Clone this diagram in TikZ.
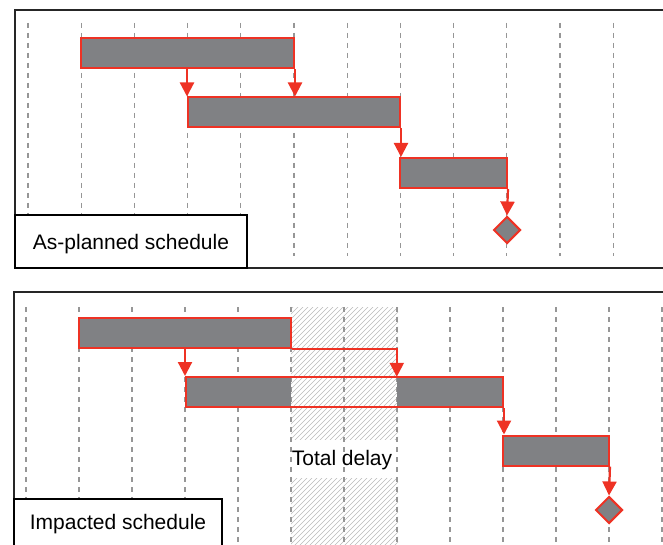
\documentclass[tikz,border=0pt]{standalone}
\usepackage{fontspec}
\setmainfont{Liberation Sans}
\usetikzlibrary{arrows.meta,shapes.geometric}
\definecolor{barred}{RGB}{238,50,36}
\definecolor{bargray}{RGB}{128,129,132}
\definecolor{gridgray}{RGB}{150,150,150}
\definecolor{hatchgray}{RGB}{185,185,185}
\begin{document}
\begin{tikzpicture}[x=1pt,y=-1pt,
 bar/.style={draw=barred, line width=2pt, fill=bargray, rectangle, inner sep=0pt, minimum height=30pt},
 barfill/.style={fill=bargray, rectangle, inner sep=0pt, minimum height=30pt},
 barframe/.style={draw=barred, line width=2pt, rectangle, inner sep=0pt, minimum height=30pt},
 milestone/.style={diamond, draw=barred, line width=2pt, fill=bargray, inner sep=0pt, minimum width=27pt, minimum height=27pt},
 link/.style={draw=barred, line width=2.2pt, -{Triangle[width=14pt,length=14pt]}},
 gridline/.style={draw=gridgray, line width=1.2pt, dash pattern=on 5pt off 5pt},
 hatch/.style={draw=hatchgray, line width=0.6pt},
 panel/.style={draw=black!85, line width=1.5pt},
 schedlabel/.style={draw=black, line width=1.2pt, fill=white, inner sep=0pt, text height=15pt, text depth=0pt, font=\fontsize{21}{25}\selectfont},
 plaintext/.style={font=\fontsize{21}{25}\selectfont, inner sep=0pt, text height=15pt, text depth=0pt}
]
\useasboundingbox (0,0) rectangle (663,545);

% panels
\draw[panel] (15,10) rectangle (700,268);
\draw[panel] (14,292) rectangle (700,570);

% hatched delay zone
\begin{scope}
  \clip (291,307) rectangle (398,439);
  \foreach \k in {140,145,...,420} \draw[hatch] (\k,450) -- ++(160,-160);
\end{scope}
\begin{scope}
  \clip (291,478) rectangle (398,545);
  \foreach \k in {200,205,...,420} \draw[hatch] (\k,560) -- ++(100,-100);
\end{scope}

% grid lines
\foreach \i in {0,...,11} \draw[gridline] ({28+53.2*\i},23) -- ({28+53.2*\i},256);
\foreach \i in {0,...,12} \draw[gridline] ({26+53*\i},307) -- ({26+53*\i},545);

% as-planned
\node[bar, minimum width=213pt] (A1) at (187.5,53.5) {};
\node[bar, minimum width=212pt] (A2) at (294,112.5) {};
\node[bar, minimum width=107pt] (A3) at (453.5,173) {};
\node[milestone] (A4) at (507,230) {};
\draw[link] (A2.north west |- A1.south) -- (A2.north west);
\draw[link] (A1.south east) -- (A1.south east |- A2.north);
\draw[link] (A2.south east) -- (A2.south east |- A3.north);
\draw[link] (A3.south east) -- (A4.north);

% impacted
\node[bar, minimum width=212pt] (B1) at (185,333) {};
\node[barfill, minimum width=105pt] (B2a) at (238.5,392) {};
\node[barfill, minimum width=106pt] (B2b) at (450,392) {};
\node[barframe, minimum width=317pt] (B2) at (344.5,392) {};
\node[bar, minimum width=106pt] (B3) at (556,450.5) {};
\node[milestone] (B4) at (609,510) {};
\draw[link] (B2.north west |- B1.south) -- (B2.north west);
\draw[link] (B1.south east) -| (B2b.north west);
\draw[link] (B2.south east) -- (B2.south east |- B3.north);
\draw[link] (B3.south east) -- (B4.north);

\node[plaintext] (delay) at (342,458) {Total delay};

% labels
\node[schedlabel, minimum width=232pt, minimum height=53pt] (lab1) at (131,241.5) {As-planned schedule};
\node[schedlabel, minimum width=208pt, minimum height=50pt, text depth=4pt] (lab2) at (118,524) {Impacted schedule};
\end{tikzpicture}
\end{document}
